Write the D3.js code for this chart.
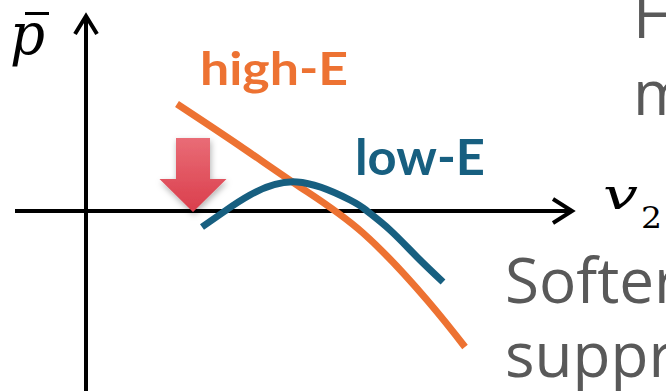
<!DOCTYPE html>
<html>
<head>
<meta charset="utf-8">
<script src="https://cdn.jsdelivr.net/npm/d3@7"></script>
<style>
  html, body { margin: 0; padding: 0; background: #fff; }
  svg { display: block; }
</style>
</head>
<body>
<svg id="chart" width="666" height="391"></svg>
<script>
// curve values in axis units (v2, p-bar)
const highE = [
    { v: 1.82, p: 2.14 },
    { v: 3.08, p: 1.30 },
    { v: 4.28, p: 0.48 },
    { v: 5.54, p: -0.44 },
    { v: 6.82, p: -1.78 },
    { v: 7.58, p: -2.72 }
];
const lowE = [
    { v: 2.32, p: -0.32 },
    { v: 2.78, p: 0.00 },
    { v: 3.28, p: 0.32 },
    { v: 4.22, p: 0.58 },
    { v: 5.28, p: 0.22 },
    { v: 5.62, p: 0.00 },
    { v: 6.08, p: -0.38 },
    { v: 6.62, p: -0.92 },
    { v: 7.14, p: -1.42 }
];
const seriesLabels = ["high-E", "low-E"];
const seriesColors = ["#ed7232", "#175f80"];
// red "drop" arrow: at v, from p top to p tip
const dropArrow = { v: 2.14, top: 1.46, tip: -0.02 };
const sideText = ["H", "m", "Softer", "suppr"];

const width = 666;
const height = 391;
const svg = d3.select("#chart");

// one axis unit = 50px, origin where the two arrows cross
const x = d3.scaleLinear().domain([0, 1]).range([86, 136]);
const y = d3.scaleLinear().domain([0, 1]).range([211, 161]);

const defs = svg.append("defs");

const grad = defs.append("linearGradient")
    .attr("id", "arrow-grad")
    .attr("x1", 0).attr("y1", 0).attr("x2", 0).attr("y2", 1);
grad.append("stop").attr("offset", "0%").attr("stop-color", "#e96c76");
grad.append("stop").attr("offset", "100%").attr("stop-color", "#da3e4c");

const shadow = defs.append("filter")
    .attr("id", "shadow")
    .attr("x", "-30%").attr("y", "-30%")
    .attr("width", "160%").attr("height", "160%");
shadow.append("feDropShadow")
    .attr("dx", 1).attr("dy", 3)
    .attr("stdDeviation", 3)
    .attr("flood-color", "#000")
    .attr("flood-opacity", 0.3);

// axes
const axisG = svg.append("g")
    .attr("stroke", "#000")
    .attr("stroke-width", 4)
    .attr("fill", "none");

axisG.append("line")
    .attr("x1", x(0)).attr("x2", x(0))
    .attr("y1", height + 5).attr("y2", 16);
axisG.append("path")
    .attr("d", `M${x(0) - 11},34 L${x(0)},16 L${x(0) + 11},34`);

axisG.append("line")
    .attr("x1", 15).attr("x2", 572)
    .attr("y1", y(0)).attr("y2", y(0));
axisG.append("path")
    .attr("d", `M553,${y(0) - 12} L572,${y(0)} L553,${y(0) + 12}`);

// axis labels
svg.append("text")
    .attr("x", 10).attr("y", 54)
    .attr("font-family", "DejaVu Serif, Liberation Serif, serif")
    .attr("font-style", "italic")
    .attr("font-size", 58)
    .attr("fill", "#000")
    .attr("textLength", 35)
    .attr("lengthAdjust", "spacingAndGlyphs")
    .text("p");
svg.append("line")
    .attr("x1", 25).attr("x2", 49)
    .attr("y1", 13.5).attr("y2", 13.5)
    .attr("stroke", "#000").attr("stroke-width", 3);

svg.append("text")
    .attr("x", 603).attr("y", 209)
    .attr("font-family", "DejaVu Serif, Liberation Serif, serif")
    .attr("font-style", "italic")
    .attr("font-size", 42)
    .attr("fill", "#000")
    .attr("textLength", 35)
    .attr("lengthAdjust", "spacingAndGlyphs")
    .text("v");
svg.append("text")
    .attr("x", 641).attr("y", 228)
    .attr("font-family", "DejaVu Serif, Liberation Serif, serif")
    .attr("font-size", 30)
    .attr("fill", "#000")
    .attr("textLength", 21)
    .attr("lengthAdjust", "spacingAndGlyphs")
    .text("2");

// curves
const line = d3.line()
    .x(d => x(d.v))
    .y(d => y(d.p))
    .curve(d3.curveNatural);

svg.append("path")
    .datum(highE)
    .attr("fill", "none")
    .attr("stroke", seriesColors[0])
    .attr("stroke-width", 7)
    .attr("d", line);

svg.append("path")
    .datum(lowE)
    .attr("fill", "none")
    .attr("stroke", seriesColors[1])
    .attr("stroke-width", 7)
    .attr("d", line);

// red arrow
const ax = x(dropArrow.v);
const aTop = y(dropArrow.top);
const aTip = y(dropArrow.tip);
const headY = aTip - 33;
svg.append("path")
    .attr("fill", "url(#arrow-grad)")
    .attr("filter", "url(#shadow)")
    .attr("d", `M${ax - 17},${aTop} L${ax + 17},${aTop} L${ax + 17},${headY}
                L${ax + 33.5},${headY} L${ax},${aTip} L${ax - 33.5},${headY}
                L${ax - 17},${headY} Z`);

// series labels
svg.append("text")
    .attr("x", 200).attr("y", 85)
    .attr("font-family", "Lato, Carlito, sans-serif")
    .attr("font-weight", "bold")
    .attr("font-size", 46)
    .attr("fill", seriesColors[0])
    .attr("textLength", 148)
    .attr("lengthAdjust", "spacingAndGlyphs")
    .text(seriesLabels[0]);

svg.append("text")
    .attr("x", 355).attr("y", 175)
    .attr("font-family", "Lato, Carlito, sans-serif")
    .attr("font-weight", "bold")
    .attr("font-size", 50)
    .attr("fill", seriesColors[1])
    .attr("textLength", 130)
    .attr("lengthAdjust", "spacingAndGlyphs")
    .text(seriesLabels[1]);

// clipped side text on the right
const side = svg.append("g")
    .attr("font-family", "Open Sans, Noto Sans, sans-serif")
    .attr("font-size", 62)
    .attr("fill", "#595959");
side.append("text").attr("x", 633).attr("y", 38).text(sideText[0]);
side.append("text").attr("x", 633).attr("y", 115).text(sideText[1]);
side.append("text").attr("x", 505).attr("y", 303).text(sideText[2]);
side.append("text").attr("x", 505).attr("y", 377).text(sideText[3]);
</script>
</body>
</html>
